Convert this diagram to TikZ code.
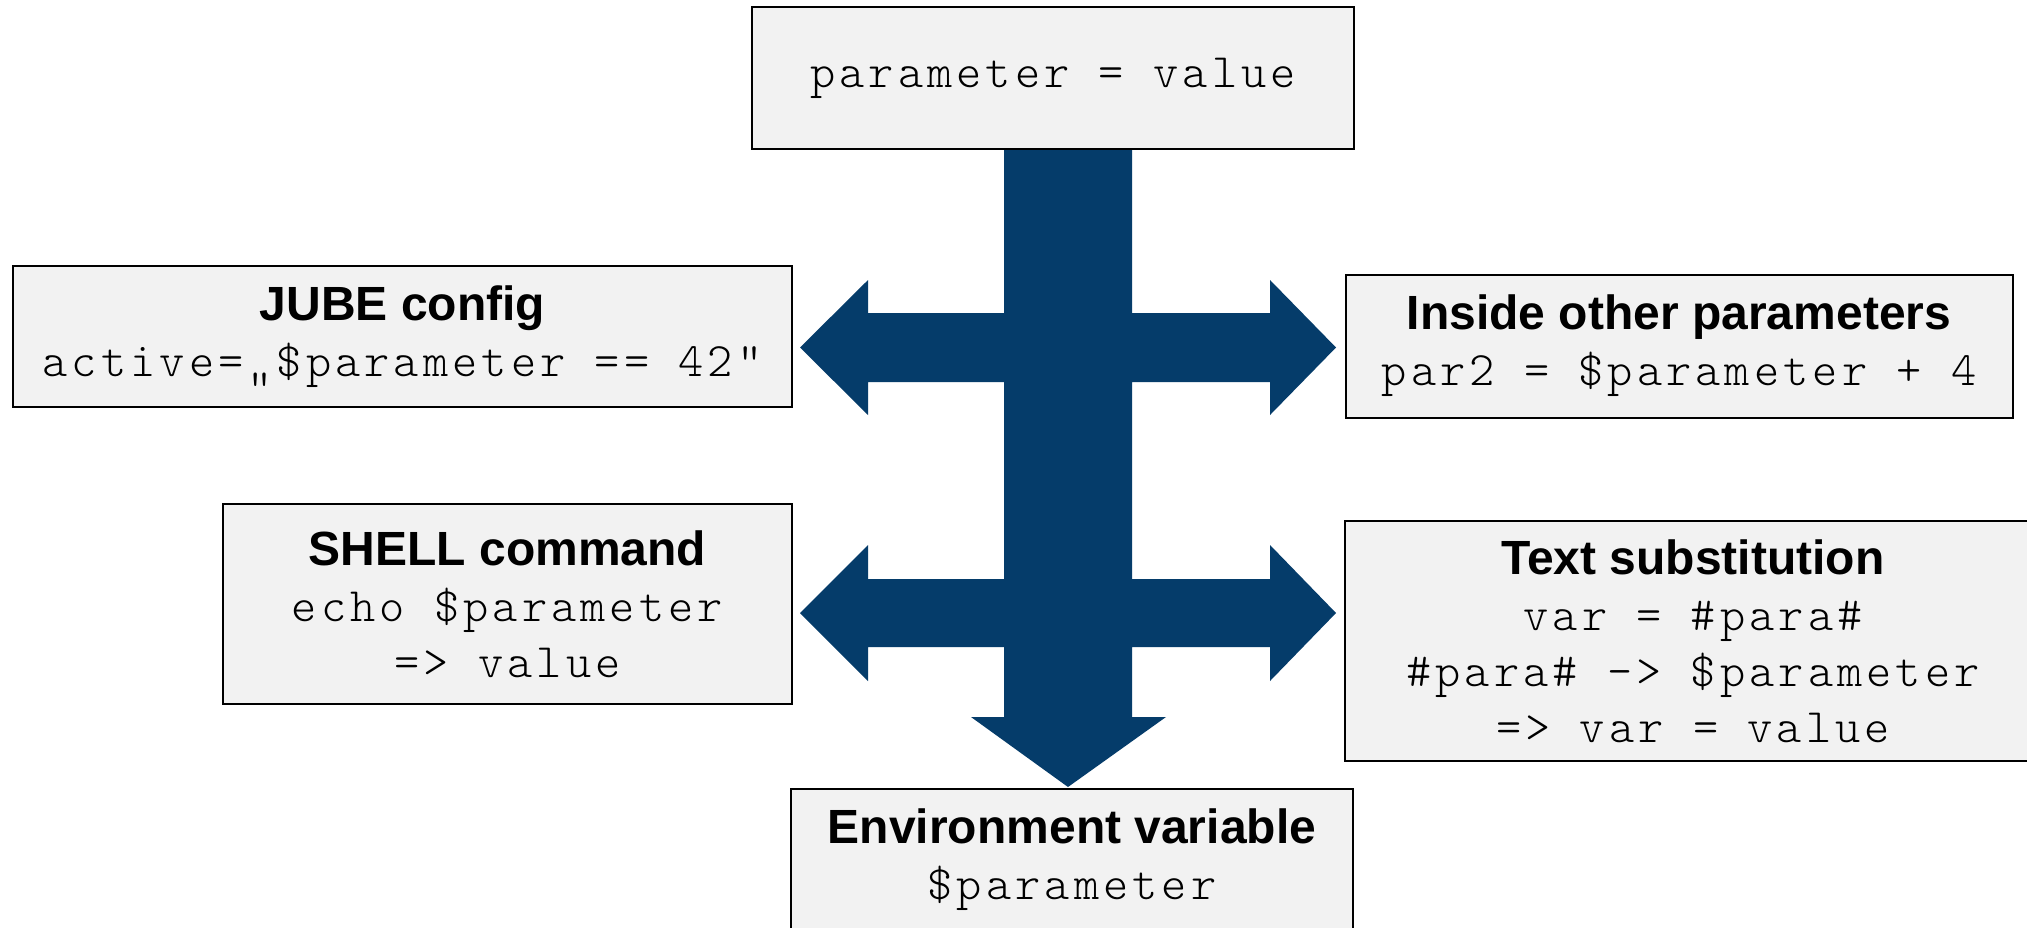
\documentclass[tikz,border=0pt]{standalone}
\usepackage{fontspec}
\setmainfont{Liberation Sans}
\setsansfont{Liberation Sans}
\setmonofont{Latin Modern Mono Light}[LetterSpace=8.5]
\definecolor{boxfill}{HTML}{F2F2F2}
\definecolor{arrowblue}{HTML}{053C6A}
\tikzset{
  infobox/.style={draw=black, line width=1pt, fill=boxfill, rectangle,
    align=center, inner sep=0pt,
    font=\fontsize{24pt}{28pt}\selectfont},
}
\newcommand{\headline}[1]{{\sffamily\bfseries #1}}
\newcommand{\codeline}[1]{{\ttfamily #1}}
\begin{document}
\begin{tikzpicture}[x=0.5pt, y=-0.5pt]
  % canvas
  \clip (0,0) rectangle (2027,927);
  \fill[white] (0,0) rectangle (2027,927);

  % the distribution arrow: shaft with two pairs of side heads and a head pointing down
  \fill[arrowblue]
    (1004,149) -- (1004,313) -- (868,313) -- (868,280) -- (800,347.5)
    -- (868,415) -- (868,382) -- (1004,382) -- (1004,579) -- (868,579)
    -- (868,545) -- (800,613) -- (868,681) -- (868,647) -- (1004,647)
    -- (1004,717) -- (971,717) -- (1068,787) -- (1166,717) -- (1132,717)
    -- (1132,647) -- (1270,647) -- (1270,681) -- (1336,613) -- (1270,545)
    -- (1270,579) -- (1132,579) -- (1132,382) -- (1270,382) -- (1270,415)
    -- (1336,347.5) -- (1270,280) -- (1270,313) -- (1132,313) -- (1132,149)
    -- cycle;

  % source parameter
  \node[infobox, minimum width=301pt, minimum height=71pt] (param) at (1053,78)
    {\codeline{parameter = value}};

  % places where the parameter is used
  \node[infobox, minimum width=389.5pt, minimum height=70.5pt] (jube) at (402.5,336.5)
    {\headline{JUBE config}\\ \codeline{active=„\$parameter == 42“}};

  \node[infobox, minimum width=333.5pt, minimum height=71.5pt] (inside) at (1679,346)
    {\headline{Inside other parameters}\\ \codeline{par2 = \$parameter + 4}};

  \node[infobox, minimum width=284.5pt, minimum height=100pt] (shell) at (507.5,604)
    {\headline{SHELL command}\\ \codeline{echo \$parameter}\\ \codeline{=> value}};

  \node[infobox, minimum width=348pt, minimum height=120pt] (subst) at (1693,641)
    {\headline{Text substitution}\\ \codeline{var = \#para\#}\\
     \codeline{\#para\# -> \$parameter}\\ \codeline{=> var = value}};

  \node[infobox, minimum width=281pt, minimum height=93pt] (env) at (1072,882)
    {\headline{Environment variable}\\ \codeline{\$parameter}\\ \mbox{}};
\end{tikzpicture}
\end{document}
